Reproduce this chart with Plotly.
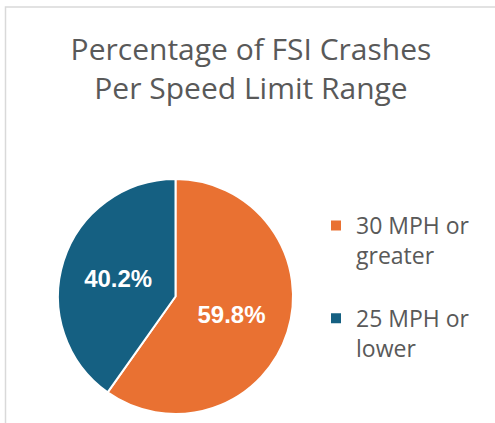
import plotly.graph_objects as go

W, H = 495, 423
FONT_TEXT = "Open Sans, Arial, sans-serif"
GREY = "#595959"

# data
categories = ["30 MPH or greater", "25 MPH or lower"]
shares = [59.8, 40.2]
colors = ["#E97132", "#156082"]
title_text = "Percentage of FSI Crashes<br>Per Speed Limit Range"


def px_x(v):
    return v / W


def px_y(v):
    return 1 - v / H


# wrap legend text like the original, blank line adds the gap between entries
legend_labels = [c.replace(" or ", " or<br>") + "<br> " for c in categories]

fig = go.Figure(go.Pie(
    labels=legend_labels,
    values=shares,
    sort=False,
    direction="clockwise",
    rotation=0,
    marker=dict(colors=colors, line=dict(color="white", width=2)),
    texttemplate="%{value:.1f}%",
    textposition="inside",
    insidetextorientation="horizontal",
    textfont=dict(family="Liberation Sans, Arial, sans-serif", size=24,
                  color="white", weight="bold"),
    domain=dict(x=[px_x(58), px_x(293)], y=[px_y(415), px_y(178)]),
    hoverinfo="label+percent",
))

fig.update_layout(
    width=W, height=H,
    margin=dict(l=0, r=0, t=0, b=0),
    paper_bgcolor="white",
    plot_bgcolor="white",
    font=dict(family=FONT_TEXT, color=GREY),
    title=dict(text=title_text, x=px_x(251), xanchor="center",
               y=px_y(60), yanchor="top",
               font=dict(family=FONT_TEXT, size=30, color=GREY)),
    legend=dict(x=px_x(316), xanchor="left", y=px_y(204), yanchor="top",
                valign="top", font=dict(size=23, color=GREY),
                bgcolor="rgba(0,0,0,0)"),
    shapes=[dict(type="rect", xref="paper", yref="paper",
                 x0=px_x(5.5), x1=1.2, y0=-0.2, y1=px_y(7),
                 line=dict(color="#D9D9D9", width=1.5), layer="below")],
)

# the page body has a default 8px margin; drop it so the chart sits at 0,0
fig.write_html("out.html", config={"displayModeBar": False},
               post_script="document.body.style.margin = '0';")
